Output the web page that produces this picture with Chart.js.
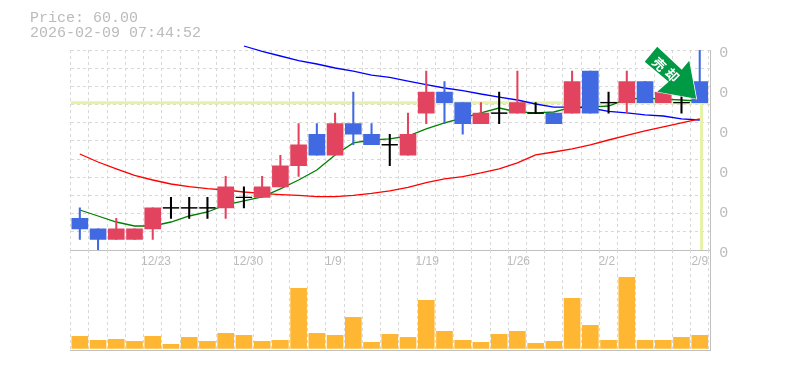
<!DOCTYPE html>
<html>
<head>
<meta charset="utf-8">
<script src="https://cdn.jsdelivr.net/npm/chart.js@4"></script>
<style>
  html, body { margin: 0; padding: 0; background: #fff; }
  #wrap { position: relative; width: 785px; height: 370px; overflow: hidden; }
  canvas { position: absolute; left: 0; }
</style>
</head>
<body>
<div id="wrap">
  <canvas id="priceChart" width="785" height="275" style="top:0"></canvas>
  <canvas id="volumeChart" width="785" height="120" style="top:240px"></canvas>
</div>
<script>
const titleLines = ['Price: 60.00', '2026-02-09 07:44:52'];
const currentPrice = 60;
const arrowChars = ['売', '却'];

const datePositions = [4.18, 9.23, 13.9, 19.05, 24.05, 28.9, 34];
const dateLabels = ['12/23', '12/30', '1/9', '1/19', '1/26', '2/2', '2/9'];
const priceTicks = [65, 61.2, 57.4, 53.6, 49.8, 46];
const priceTickLabels = ['0', '0', '0', '0', '0', '0'];

const opens = [49, 48, 47, 47, 48, 50, 50, 50, 50, 51, 51, 52, 54, 57, 55, 58, 57, 56, 55, 59, 61, 60, 58, 59, 59, 59, 59, 59, 63, 60, 60, 62, 60, 60, 62];
const closes = [48, 47, 48, 48, 50, 50, 50, 50, 52, 51, 52, 54, 56, 55, 58, 57, 56, 56, 57, 61, 60, 58, 59, 59, 60, 59, 58, 62, 59, 60, 62, 60, 61, 60, 60];
const highs = [50, 48, 49, 48, 50, 51, 51, 51, 53, 52, 53, 55, 58, 58, 59, 61, 58, 57, 59, 63, 62, 60, 60, 61, 63, 60, 59, 63, 63, 61, 63, 62, 61, 61, 65];
const lows = [47, 46, 47, 47, 47, 49, 49, 49, 49, 50, 51, 52, 53, 55, 55, 56, 56, 54, 55, 58, 58, 57, 58, 58, 59, 59, 58, 59, 59, 59, 59, 60, 60, 59, 60];

const maShort = [49.80, 49.23, 48.66, 48.28, 48.28, 48.66, 49.23, 49.61, 50.28, 50.66, 51.04, 51.80, 52.65, 53.60, 55.03, 56.17, 56.45, 56.55, 56.83, 57.50, 58.07, 58.54, 59.02, 59.49, 59.11, 59.02, 59.11, 59.58, 59.58, 59.68, 60.34, 60.44, 60.34, 60.25, 60.15];
const maMid = [55.12, 54.36, 53.70, 53.08, 52.65, 52.27, 52.03, 51.84, 51.70, 51.51, 51.37, 51.27, 51.18, 51.08, 51.08, 51.18, 51.37, 51.61, 51.94, 52.41, 52.75, 52.98, 53.32, 53.70, 54.27, 55.03, 55.31, 55.60, 55.98, 56.45, 56.88, 57.31, 57.69, 58.07, 58.45];
const maLong = [null, null, null, null, null, null, null, null, null, 65.38, 64.86, 64.43, 64.00, 63.67, 63.29, 63.00, 62.62, 62.39, 62.05, 61.72, 61.39, 61.15, 60.82, 60.53, 60.25, 59.87, 59.58, 59.58, 59.49, 59.16, 59.02, 58.83, 58.73, 58.45, 58.35];

const volumes = [12, 8, 9, 7, 12, 4, 11, 7, 15, 13, 7, 8, 60, 15, 13, 31, 6, 14, 11, 48, 17, 8, 6, 14, 17, 5, 7, 50, 23, 8, 71, 8, 8, 11, 13];

const upColor = '#e2445f';
const downColor = '#4169e1';
const gridColor = '#d8d8d8';
const frameColor = '#c0c0c0';
const textColor = '#bbbbbb';
const markerColor = '#e6f2a8';

const xMin = -0.5;
const xMax = 34.58;
const yMin = 46;
const yMax = 65;
const gridStep = (yMax - yMin) / 11;

const slotEdges = opens.map((_, i) => i - 0.5).concat([opens.length - 0.5]);
const lastIndex = opens.length - 1;

function candleColor(i) {
    if (closes[i] === opens[i]) return '#000000';
    return closes[i] > opens[i] ? upColor : downColor;
}

function maDataset(values, color) {
    return {
        type: 'line',
        data: values.map((v, i) => ({ x: i, y: v })),
        borderColor: color,
        borderWidth: 1.3,
        pointRadius: 0,
        tension: 0,
        clip: false,
        order: 3,
    };
}

// green sell arrow, hung off the last candle
const arrowPlugin = {
    id: 'arrowPlugin',
    afterDatasetsDraw(chart) {
        const ctx = chart.ctx;
        const tipX = chart.scales.x.getPixelForValue(lastIndex) - 3.5;
        const tipY = chart.scales.y.getPixelForValue(currentPrice) - 4;
        ctx.save();
        ctx.translate(tipX, tipY);
        ctx.beginPath();
        ctx.moveTo(0, 0);
        ctx.lineTo(-39, -7);
        ctx.lineTo(-27.5, -17);
        ctx.lineTo(-51.5, -37);
        ctx.lineTo(-39, -52);
        ctx.lineTo(-14.5, -29);
        ctx.lineTo(-7, -38);
        ctx.closePath();
        ctx.fillStyle = '#009944';
        ctx.strokeStyle = '#ffffff';
        ctx.lineWidth = 1.5;
        ctx.stroke();
        ctx.fill();
        ctx.fillStyle = '#ffffff';
        ctx.font = 'bold 13px "Noto Sans CJK JP"';
        ctx.textAlign = 'center';
        ctx.textBaseline = 'middle';
        arrowChars.forEach((ch, i) => {
            ctx.save();
            ctx.translate(-37 + i * 13, -34.5 + i * 11);
            ctx.rotate(Math.PI / 4);
            ctx.fillText(ch, 0, 0);
            ctx.restore();
        });
        ctx.restore();
    },
};

function slotAxis() {
    return {
        type: 'linear',
        offset: false,
        min: xMin,
        max: xMax,
        weight: -1,
        afterBuildTicks: (axis) => { axis.ticks = slotEdges.map((v) => ({ value: v })); },
        afterFit: (axis) => { axis.height = 0; },
        ticks: { display: false, autoSkip: false },
        grid: { color: gridColor, drawTicks: false, offset: false },
        border: { color: frameColor, dash: [3, 3] },
    };
}

new Chart(document.getElementById('priceChart'), {
    type: 'bar',
    data: {
        datasets: [
            {
                type: 'line',
                data: [{ x: xMin, y: currentPrice }, { x: lastIndex + 0.5, y: currentPrice }],
                borderColor: markerColor,
                borderWidth: 3,
                pointRadius: 0,
                order: 5,
            },
            {
                type: 'line',
                data: [{ x: lastIndex + 0.1, y: currentPrice }, { x: lastIndex + 0.1, y: yMin }],
                borderColor: markerColor,
                borderWidth: 3,
                pointRadius: 0,
                order: 5,
            },
            maDataset(maMid, '#ff0000'),
            maDataset(maLong, '#0000ff'),
            maDataset(maShort, '#008000'),
            {
                data: highs.map((h, i) => ({ x: i, y: [lows[i], h] })),
                backgroundColor: opens.map((_, i) => candleColor(i)),
                barThickness: 1.4,
                grouped: false,
                order: 2,
            },
            {
                data: opens.map((o, i) => ({ x: i, y: [o, closes[i]] })),
                backgroundColor: opens.map((_, i) => candleColor(i)),
                barThickness: 16,
                grouped: false,
                order: 1,
            },
            {
                type: 'line',
                showLine: false,
                data: opens.map((o, i) => ({ x: i, y: closes[i] === o ? o : null })),
                pointStyle: 'line',
                pointRadius: 8,
                pointBorderColor: '#000000',
                pointBorderWidth: 1.4,
                order: 0,
            },
        ],
    },
    options: {
        responsive: false,
        animation: false,
        events: [],
        layout: { padding: { left: 30, right: 0, top: 0, bottom: 0 } },
        plugins: {
            legend: { display: false },
            tooltip: { enabled: false },
            title: {
                display: true,
                text: titleLines,
                align: 'start',
                color: textColor,
                font: { family: '"Liberation Mono"', size: 15, weight: 'normal', lineHeight: 1 },
                padding: { top: 11, bottom: 9 },
            },
        },
        scales: {
            x: slotAxis(),
            xDates: {
                type: 'linear',
                position: 'bottom',
                offset: false,
                min: xMin,
                max: xMax,
                afterBuildTicks: (axis) => { axis.ticks = datePositions.map((v) => ({ value: v })); },
                afterFit: (axis) => { axis.height = 25; },
                grid: { display: false, drawTicks: false },
                border: { display: false },
                ticks: {
                    autoSkip: false,
                    maxRotation: 0,
                    padding: 4,
                    color: textColor,
                    font: { family: '"Liberation Sans"', size: 12 },
                    callback: (v, i) => dateLabels[i],
                },
            },
            y: {
                type: 'linear',
                position: 'left',
                min: yMin,
                max: yMax,
                afterBuildTicks: (axis) => {
                    axis.ticks = Array.from({ length: 12 }, (_, k) => ({ value: yMin + k * gridStep }));
                },
                afterFit: (axis) => { axis.width = 40.7; },
                ticks: { display: false },
                grid: { color: gridColor, drawTicks: false },
                border: { display: false, dash: [3, 3] },
            },
            yLabels: {
                type: 'linear',
                position: 'right',
                min: yMin,
                max: yMax,
                afterBuildTicks: (axis) => { axis.ticks = priceTicks.map((v) => ({ value: v })); },
                afterFit: (axis) => { axis.width = 74.7; },
                grid: { display: false, drawTicks: false },
                border: { color: frameColor },
                ticks: {
                    autoSkip: false,
                    padding: 9,
                    labelOffset: 3.5,
                    color: textColor,
                    font: { family: '"Liberation Mono"', size: 15 },
                    callback: (v, i) => priceTickLabels[i],
                },
            },
        },
    },
    plugins: [arrowPlugin],
});

new Chart(document.getElementById('volumeChart'), {
    type: 'bar',
    data: {
        datasets: [{
            data: volumes.map((v, i) => ({ x: i, y: v })),
            backgroundColor: '#ffb733',
            barThickness: 16,
        }],
    },
    options: {
        responsive: false,
        animation: false,
        events: [],
        layout: { padding: { left: 70.7, right: 0, top: 10, bottom: 10 } },
        plugins: { legend: { display: false }, tooltip: { enabled: false } },
        scales: {
            x: slotAxis(),
            y: {
                type: 'linear',
                position: 'right',
                min: -1.7,
                max: 98.3,
                afterFit: (axis) => { axis.width = 74.7; },
                ticks: { display: false },
                grid: { display: false, drawTicks: false },
                border: { color: frameColor },
            },
        },
    },
});
</script>
</body>
</html>
